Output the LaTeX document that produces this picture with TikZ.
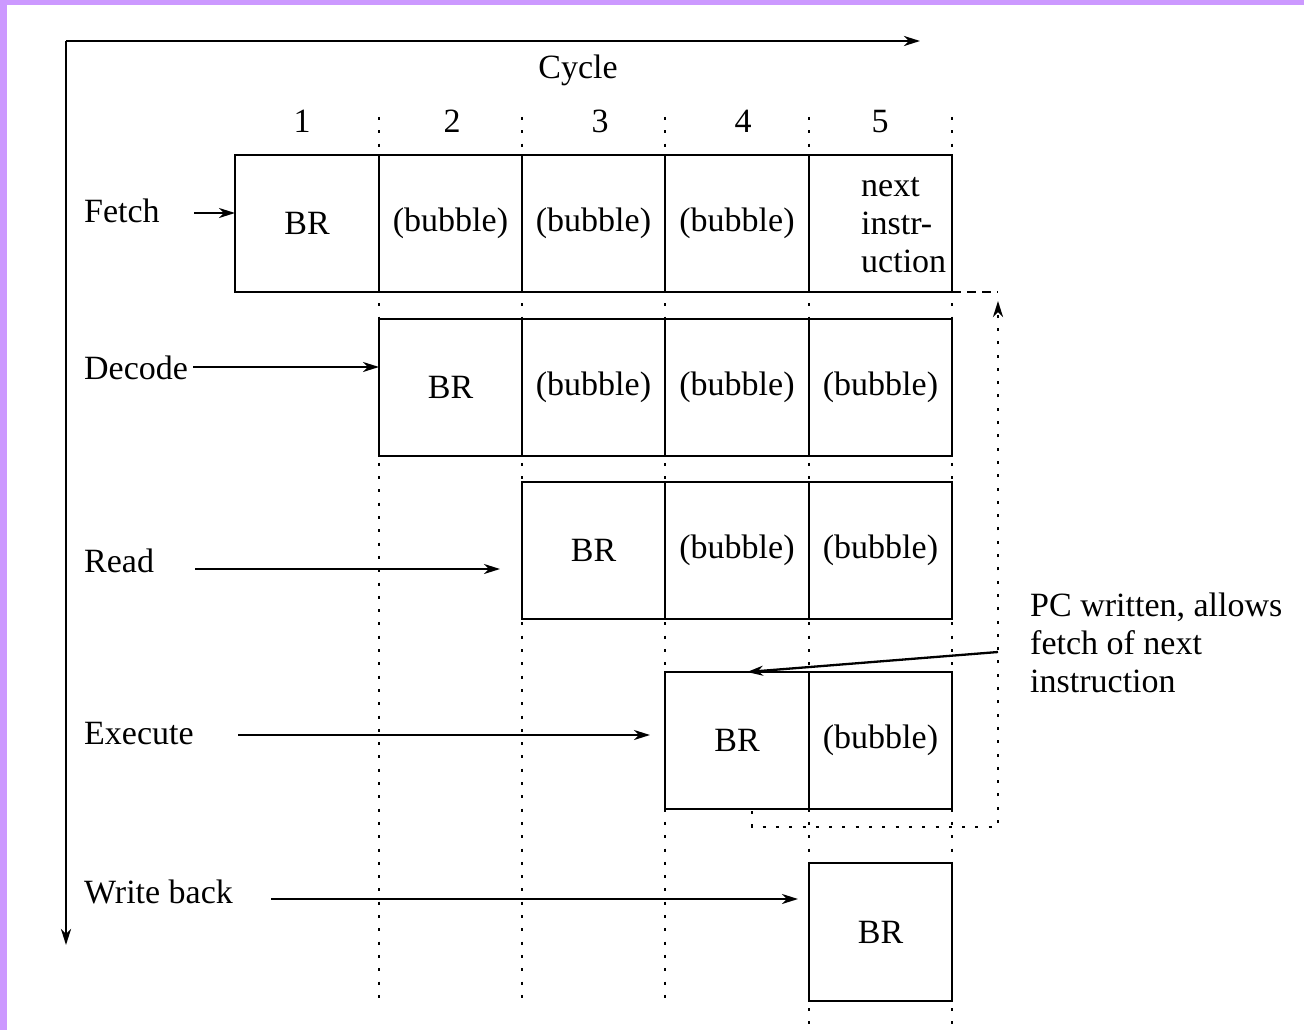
\documentclass[tikz,border=0pt]{standalone}
\usepackage{fontspec}
\setmainfont{Liberation Serif}
\usetikzlibrary{arrows.meta,calc}
\definecolor{framecol}{RGB}{204,153,255}
\begin{document}
\begin{tikzpicture}[x=1pt,y=-1pt,
  every node/.style={font=\fontsize{34}{38}\selectfont},
  cell/.style={draw,fill=white,line width=2.8pt,minimum height=137pt,
    inner sep=0pt,outer sep=0pt,anchor=north west},
  lbl/.style={anchor=base west,inner sep=0pt},
  num/.style={anchor=base,inner sep=0pt},
  tip/.style={-{Stealth[length=16pt,width=10pt,inset=5pt]}},
  conn/.style={tip,line width=2.3pt},
  grid/.style={line width=2.6pt,dash pattern=on 3pt off 10.3pt},
  fb/.style={line width=2.5pt,dash pattern=on 3pt off 10.3pt},
  fbdash/.style={line width=2.3pt,dash pattern=on 9pt off 6pt}]
% page and coloured frame strips
\useasboundingbox (0,0) rectangle (1304,1030);
\fill[white] (0,0) rectangle (1304,1030);
\fill[framecol] (0,0) rectangle (1304,5);
\fill[framecol] (0,0) rectangle (7,1030);

% cycle boundaries
\foreach \x/\yb in {379/1007,522/1007,665/1007,809/1025,952/1025}
  \draw[grid] (\x,117) -- (\x,\yb);

% axes
\coordinate (origin) at (66,41);
\coordinate (tend) at (920,41);
\coordinate (send) at (66,945);
\draw[tip,line width=2.6pt] (origin) -- (tend);
\draw[tip,line width=2.6pt] (origin) -- (send);
\node[anchor=base,inner sep=0pt] (cycle) at (578,79) {Cycle};
\node[num] (n1) at (302,133) {1};
\node[num] (n2) at (452,133) {2};
\node[num] (n3) at (600,133) {3};
\node[num] (n4) at (743,133) {4};
\node[num] (n5) at (880,133) {5};

% Fetch
\node[cell,minimum width=144pt] (f1) at (235,155) {BR};
\node[cell,minimum width=143pt] (f2) at (379,155) {(bubble)};
\node[cell,minimum width=143pt] (f3) at (522,155) {(bubble)};
\node[cell,minimum width=144pt] (f4) at (665,155) {(bubble)};
\node[cell,minimum width=143pt] (f5) at (809,155) {};
\node[anchor=north west,align=left,inner sep=0pt] (nexti) at (861,177)
  {next\\instr-\\uction};
% Decode
\node[cell,minimum width=143pt] (d2) at (379,319) {BR};
\node[cell,minimum width=143pt] (d3) at (522,319) {(bubble)};
\node[cell,minimum width=144pt] (d4) at (665,319) {(bubble)};
\node[cell,minimum width=143pt] (d5) at (809,319) {(bubble)};
% Read
\node[cell,minimum width=143pt] (r3) at (522,482) {BR};
\node[cell,minimum width=144pt] (r4) at (665,482) {(bubble)};
\node[cell,minimum width=143pt] (r5) at (809,482) {(bubble)};
% Execute
\node[cell,minimum width=144pt] (e4) at (665,672) {BR};
\node[cell,minimum width=143pt] (e5) at (809,672) {(bubble)};
% Write back
\node[cell,minimum width=143pt,minimum height=138pt] (w5) at (809,863) {BR};

% stage labels and their arrows
\node[lbl] (lf) at (84,222) {Fetch};
\node[lbl] (ld) at (84,379) {Decode};
\node[lbl] (lr) at (84,572) {Read};
\node[lbl] (le) at (84,744) {Execute};
\node[lbl] (lw) at (84,903) {Write back};

\coordinate (af) at (194,213);
\coordinate (ad) at (193,367);
\coordinate (ar) at (195,569);
\coordinate (arE) at (500,569);
\coordinate (ae) at (238,735);
\coordinate (aeE) at (650,735);
\coordinate (aw) at (271,899);
\coordinate (awE) at (798,899);
\draw[conn] (af) -- (af -| f1.west);
\draw[conn] (ad) -- (ad -| d2.west);
\draw[conn] (ar) -- (arE);
\draw[conn] (ae) -- (aeE);
\draw[conn] (aw) -- (awE);

% feedback path: PC written back to fetch
\coordinate (fbTip) at (998,301);
\coordinate (fbStart) at (752,811);
\coordinate (fbCorner) at (752,827);
\coordinate (fbRight) at (998,827);
\draw[fbdash] (f5.south east) -- (f5.south east -| fbTip);
\draw[fb,tip] (fbStart) -- (fbCorner) -- (fbRight) -- (fbTip);

% annotation
\node[anchor=north west,align=left,inner sep=0pt] (note) at (1030,593)
  {PC written, allows\\fetch of next\\instruction};
\coordinate (noteA) at (998,652);
\draw[conn] (noteA) -- ($(e4.north west)!0.57!(e4.north east)$);
\end{tikzpicture}
\end{document}
